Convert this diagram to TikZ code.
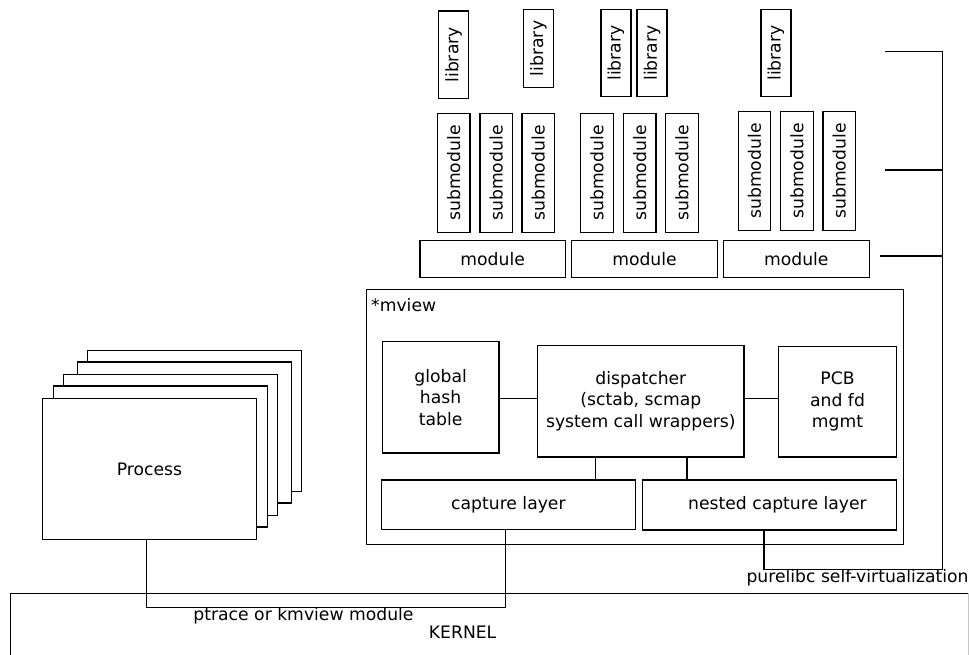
\documentclass[tikz,border=0pt]{standalone}
\usepackage{fontspec}
\setmainfont{DejaVu Sans}
\begin{document}
\begin{tikzpicture}[x=1pt,y=-1pt,
  txt/.style={font=\fontsize{17.2}{21.5}\selectfont},
  box/.style={draw, line width=1.3pt, fill=white, inner sep=0pt, outer sep=0pt, align=center, txt},
  vbox/.style={box, rotate=90},
  conn/.style={line width=1.3pt},
  lbl/.style={inner sep=0pt, txt}]
\useasboundingbox (0,0) rectangle (969,655);

% libraries
\node[vbox, minimum width=87.7, minimum height=30] (lib1) at (453.5,54.85) {library};
\node[vbox, minimum width=78.4, minimum height=30] (lib2) at (538.3,48.5) {library};
\node[vbox, minimum width=87.4, minimum height=30] (lib3) at (615.85,53) {library};
\node[vbox, minimum width=87.4, minimum height=30] (lib4) at (652,53) {library};
\node[vbox, minimum width=87.4, minimum height=30] (lib5) at (775.85,53) {library};

% submodules
\foreach \n/\x/\y in {1/453.65/173, 2/496.15/173, 3/538.15/173, 4/597/173, 5/639.65/173, 6/682/173, 7/754.5/171, 8/797/171, 9/839.15/171}
  \node[vbox, minimum width=119.5, minimum height=32.5] (sub\n) at (\x,\y) {submodule};

% modules
\node[box, minimum width=145.3, minimum height=37] (mod1) at (492.65,259.2) {module};
\node[box, minimum width=145.6, minimum height=37] (mod2) at (644.5,259.2) {module};
\node[box, minimum width=146, minimum height=37] (mod3) at (796.3,259.2) {module};

% right bracket
\coordinate (b1) at (885.3,51.7);
\coordinate (b2) at (885.3,170);
\coordinate (b3) at (880,256);
\coordinate (btop) at (942.5,51.7);
\coordinate (bcorner) at (942.5,569.5);
\draw[conn] (b1) -- (btop);
\draw[conn] (b2) -- (942.5,170);
\draw[conn] (b3) -- (942.5,256);

% mview
\node[box, minimum width=537, minimum height=255] (mview) at (635.2,417.2) {};
\node[lbl, anchor=base west] (mviewlbl) at (371,311.5) {*mview};

\node[box, minimum width=116.8, minimum height=111.3] (gh) at (440.6,397.35) {global\\hash\\table};
\node[box, minimum width=206.1, minimum height=111.7] (disp) at (640.85,401.15) {dispatcher\\(sctab, scmap\\system call wrappers)};
\node[box, minimum width=117.9, minimum height=110.3] (pcb) at (837.55,401.85) {PCB\\and fd\\mgmt};
\node[box, minimum width=253.8, minimum height=49.3] (cap) at (508.4,504.65) {capture layer};
\node[box, minimum width=254.1, minimum height=50] (nest) at (769.45,505) {\hspace*{16pt}nested capture layer};

\draw[conn] (gh.east |- 0,398.3) -- (disp.west |- 0,398.3);
\draw[conn] (disp.east |- 0,398.3) -- (pcb.west |- 0,398.3);
\draw[conn] (595.5,0 |- disp.south) -- (595.5,0 |- cap.north);
\draw[conn] (686.9,0 |- disp.south) -- (686.9,0 |- nest.north);

% process stack
\foreach \n/\x/\y in {5/194.3/421.2, 4/184.2/432.5, 3/170.15/444.95, 2/160.4/456.35}
  \node[box, minimum width=214, minimum height=141] (p\n) at (\x,\y) {};
\node[box, minimum width=213.6, minimum height=140.6] (proc) at (149.5,469) {Process};

% kernel
\draw[conn] (10.7,660) |- (968.5,593.3);
\draw[gray!45, line width=0.8pt] (968.5,593.3) -- (968.5,660);
\node[lbl] (kernel) at (462.6,632) {KERNEL};

% capture paths
\draw[conn] (505.2,0 |- cap.south) |- (146.6,607.5) -- (146.6,0 |- proc.south);
\draw[conn] (764,0 |- nest.south) |- (bcorner) -- (btop);

\node[lbl] (ptrace) at (303.5,616) {ptrace or kmview module};
\node[lbl] (pure) at (857.5,577.5) {purelibc self-virtualization};
\end{tikzpicture}
\end{document}
